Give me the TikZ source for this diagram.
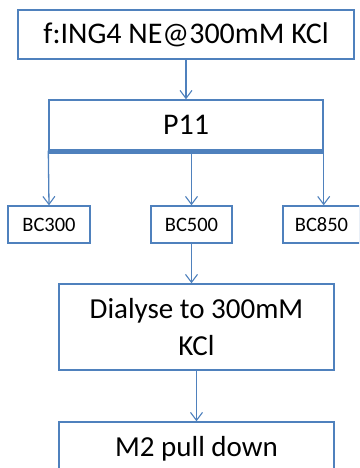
\documentclass[tikz,border=0pt]{standalone}
\usepackage{fontspec}
\setmainfont{Carlito}
\usetikzlibrary{arrows.meta}
\definecolor{boxblue}{HTML}{4F81BD}
\tikzset{
  box/.style={draw=boxblue, line width=1.4pt, rectangle, inner sep=0pt, align=center, fill=white},
  bigtext/.style={font=\fontsize{30}{36}\selectfont},
  midtext/.style={font=\fontsize{29}{37}\selectfont},
  smalltext/.style={font=\fontsize{20.5}{24}\selectfont},
  conn/.style={draw=boxblue, line width=1.3pt, -{Straight Barb[length=8pt,width=12pt,line width=1.1pt]}},
  plain/.style={draw=boxblue, line width=1.3pt},
}
\begin{document}
\begin{tikzpicture}[x=1pt,y=-1pt]
\useasboundingbox (0,0) rectangle (359,468);
\clip (0,0) rectangle (359,468);
\node[box, bigtext, minimum width=336pt, minimum height=49pt] (top) at (186,34.5) {f:ING4 NE@300mM KCl};
\node[box, bigtext, minimum width=274pt, minimum height=50pt] (p11) at (186,125) {P11};
\node[box, smalltext, minimum width=82pt, minimum height=37pt] (bc300) at (49,224.5) {BC300};
\node[box, smalltext, minimum width=81pt, minimum height=37pt] (bc500) at (191.5,224.5) {BC500};
\node[box, smalltext, minimum width=77pt, minimum height=37pt] (bc850) at (321.5,224.5) {BC850};
\node[box, midtext, minimum width=275pt, minimum height=86pt] (dial) at (196.5,327) {Dialyse to 300mM\\KCl};
\node[box, midtext, minimum width=275pt, minimum height=54pt] (m2) at (196.5,449) {M2 pull down};
\draw[conn] (top) -- (p11);
\coordinate (barL) at ([yshift=-2pt]p11.south west);
\coordinate (barR) at ([yshift=-2pt]p11.south east);
\draw[plain, line width=3pt] (barL) -- (barR);
\draw[conn] (p11.south west) -- (bc300.north);
\draw[conn] (bc500.north |- p11.south) -- (bc500.north);
\draw[conn] (p11.south east) -- (p11.south east |- bc850.north);
\draw[conn] (bc500.south) -- (bc500.south |- dial.north);
\draw[conn] (dial.south) -- (m2.north);
\end{tikzpicture}
\end{document}
